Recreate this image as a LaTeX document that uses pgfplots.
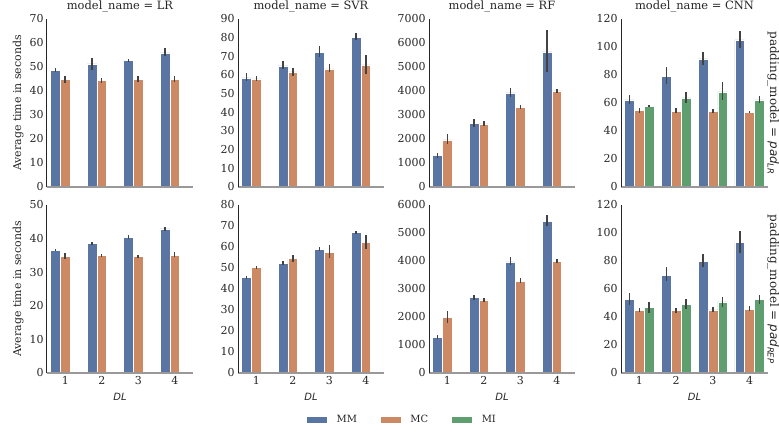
\documentclass[border=0pt]{standalone}
\usepackage{pgfplots}
\pgfplotsset{compat=1.18}
\usepackage{pgfplotstable}
\usepackage{fontspec}
\setmainfont{DejaVu Serif}
\newfontfamily\labelsans[ItalicFont={DejaVu Sans Oblique}]{DejaVu Sans}

\definecolor{cMM}{HTML}{5875A4}
\definecolor{cMC}{HTML}{CC8963}
\definecolor{cMI}{HTML}{5F9E6E}
\definecolor{errc}{HTML}{424242}
\definecolor{txt}{HTML}{262626}
\definecolor{spinex}{HTML}{999999}

% mean time and confidence bounds per delay length (DL)
% padding model pad_LR
\pgfplotstableread{
dl mm   mmlo mmhi mc   mclo mchi
1  48.7 47.9 49.5 44.7 43.2 46.2
2  51.3 48.8 53.7 44.4 43.2 45.6
3  52.7 52.1 53.3 44.9 43.7 46.1
4  55.9 54.4 57.8 44.9 43.7 46.1
}\lrLR
\pgfplotstableread{
dl mm   mmlo mmhi mc   mclo mchi
1  58.5 56.9 61.0 57.9 57.0 59.5
2  64.9 63.3 67.4 61.7 59.5 64.0
3  72.2 69.5 75.4 63.3 61.5 65.8
4  80.2 78.6 82.5 65.4 60.6 70.8
}\svrLR
\pgfplotstableread{
dl mm   mmlo mmhi mc   mclo mchi
1  1303 1215 1400 1968 1788 2204
2  2648 2509 2828 2634 2523 2758
3  3923 3770 4117 3327 3258 3396
4  5628 4796 6543 4006 3937 4075
}\rfLR
\pgfplotstableread{
dl mm    mmlo mmhi  mc   mclo mchi mi   milo mihi
1  62.3  59.6 65.6  54.9 53.2 56.6 57.7 56.8 58.6
2  79.1  73.4 86.0  54.2 52.5 56.3 63.7 60.1 67.7
3  91.5  87.4 96.5  54.2 52.8 55.6 68.0 62.0 75.1
4  105.0 99.3 111.5 53.5 52.6 54.4 62.3 59.9 64.9
}\cnnLR
% padding model pad_REP
\pgfplotstableread{
dl mm   mmlo mmhi mc   mclo mchi
1  36.6 36.2 37.0 34.8 34.0 35.8
2  38.5 38.0 39.1 34.9 34.4 35.5
3  40.4 39.9 41.0 34.7 34.3 35.2
4  42.9 42.4 43.6 35.1 34.6 35.9
}\lrREP
\pgfplotstableread{
dl mm   mmlo mmhi mc   mclo mchi
1  45.5 44.8 46.1 50.2 49.3 51.1
2  52.3 51.5 53.2 54.5 53.0 56.4
3  58.8 57.9 59.8 57.6 54.7 60.9
4  66.9 66.2 67.7 62.2 59.0 65.7
}\svrREP
\pgfplotstableread{
dl mm   mmlo mmhi mc   mclo mchi
1  1276 1205 1360 1980 1789 2219
2  2696 2601 2792 2612 2541 2684
3  3972 3841 4151 3280 3209 3376
4  5428 5249 5630 3996 3925 4080
}\rfREP
\pgfplotstableread{
dl mm   mmlo mmhi  mc   mclo mchi mi   milo mihi
1  52.5 48.9 56.8  44.9 43.4 46.3 46.8 43.2 50.6
2  69.9 65.9 75.4  44.6 43.0 46.3 49.2 45.8 52.5
3  79.9 75.7 85.2  45.1 43.4 47.1 50.8 47.3 54.4
4  93.3 85.4 101.7 45.6 44.2 47.5 52.5 49.4 55.8
}\cnnREP

\pgfplotsset{
  barleg/.style={legend image code/.code={\fill[##1] (0bp,-3.5bp) rectangle (21bp,3.5bp);}},
}

% one hue of bars
\newcommand\bars[4]{%
  \addplot[ybar, bar width=0.2667, bar shift=#4, fill=#3, draw=white,
    line width=0.5bp, barleg]
  table[x=dl, y=#2] {#1};
}
% its confidence interval, drawn over the bar centre
\newcommand\ci[3]{%
  \addplot[forget plot, draw=none, mark=none,
    error bars/.cd, y dir=both, y explicit, error mark=none,
    error bar style={line width=1.5bp, draw=errc, solid}]
  table[x expr=\thisrow{dl}+#3, y=#2,
    y error plus expr=\thisrow{#2hi}-\thisrow{#2},
    y error minus expr=\thisrow{#2}-\thisrow{#2lo}] {#1};
}

\pgfplotsset{
  panel/.style={
    scale only axis, width=146bp, height=168bp, anchor=south west,
    xmin=0.5, xmax=4.5, ymin=0, xtick={1,2,3,4}, clip=false, axis on top,
    axis x line*=bottom, axis y line*=left,
    x axis line style={-, draw=spinex, line width=1.2bp},
    y axis line style={-, draw=txt, line width=1bp},
    major tick length=0pt, tick style={draw=none},
    ticklabel style={font=\fontsize{11}{13}\selectfont, text=txt},
    /pgf/number format/assume math mode=true,
    /pgf/number format/1000 sep={},
    scaled y ticks=false,
    title style={font=\fontsize{11.5}{13}\selectfont, text=txt, inner sep=0pt,
      at={(axis description cs:0.5,1)}, anchor=base, yshift=4bp},
    ylabel style={font=\fontsize{11}{13}\selectfont, text=txt,
      at={(axis description cs:-0.198,0.5)}, anchor=center},
    xlabel style={font=\labelsans\itshape\fontsize{10}{12}\selectfont, text=txt,
      at={(axis description cs:0.5,-0.143)}, anchor=center},
  },
  toprow/.style={panel, xticklabels={}},
  botrow/.style={panel, xticklabels={1,2,3,4}, xlabel={DL}},
}

\newcommand\sidelabel[1]{%
  \node[rotate=-90, anchor=center, text=txt, font=\fontsize{12}{14}\selectfont]
    at (axis description cs:1.035,0.5)
    {padding\_model = {\labelsans\itshape\fontsize{12}{14}\selectfont pad\raisebox{-0.35ex}{\fontsize{8.5}{10}\selectfont #1}}};
}

\begin{document}
\begin{tikzpicture}
\path[use as bounding box] (0,0) rectangle (779bp,434bp);

% ---- padding model pad_LR ----
\begin{axis}[toprow, at={(47bp,247bp)}, ymax=70, ytick={0,10,...,70},
  title={model\_name = LR}, ylabel={Average time in seconds}]
  \bars{\lrLR}{mm}{cMM}{-0.2667}
  \bars{\lrLR}{mc}{cMC}{0}
  \ci{\lrLR}{mm}{-0.2667}
  \ci{\lrLR}{mc}{0}
\end{axis}
\begin{axis}[toprow, at={(238bp,247bp)}, ymax=90, ytick={0,10,...,90},
  title={model\_name = SVR}]
  \bars{\svrLR}{mm}{cMM}{-0.2667}
  \bars{\svrLR}{mc}{cMC}{0}
  \ci{\svrLR}{mm}{-0.2667}
  \ci{\svrLR}{mc}{0}
\end{axis}
\begin{axis}[toprow, at={(429bp,247bp)}, ymax=7000, ytick={0,1000,...,7000},
  title={model\_name = RF}]
  \bars{\rfLR}{mm}{cMM}{-0.2667}
  \bars{\rfLR}{mc}{cMC}{0}
  \ci{\rfLR}{mm}{-0.2667}
  \ci{\rfLR}{mc}{0}
\end{axis}
\begin{axis}[toprow, at={(621bp,247bp)}, width=147bp, ymax=120, ytick={0,20,...,120},
  title={model\_name = CNN}]
  \bars{\cnnLR}{mm}{cMM}{-0.2667}
  \bars{\cnnLR}{mc}{cMC}{0}
  \bars{\cnnLR}{mi}{cMI}{0.2667}
  \ci{\cnnLR}{mm}{-0.2667}
  \ci{\cnnLR}{mc}{0}
  \ci{\cnnLR}{mi}{0.2667}
  \sidelabel{LR}
\end{axis}

% ---- padding model pad_REP ----
\begin{axis}[botrow, at={(47bp,61bp)}, ymax=50, ytick={0,10,...,50},
  ylabel={Average time in seconds}]
  \bars{\lrREP}{mm}{cMM}{-0.2667}
  \bars{\lrREP}{mc}{cMC}{0}
  \ci{\lrREP}{mm}{-0.2667}
  \ci{\lrREP}{mc}{0}
\end{axis}
\begin{axis}[botrow, at={(238bp,61bp)}, ymax=80, ytick={0,10,...,80}]
  \bars{\svrREP}{mm}{cMM}{-0.2667}
  \bars{\svrREP}{mc}{cMC}{0}
  \ci{\svrREP}{mm}{-0.2667}
  \ci{\svrREP}{mc}{0}
\end{axis}
\begin{axis}[botrow, at={(429bp,61bp)}, ymax=6000, ytick={0,1000,...,6000}]
  \bars{\rfREP}{mm}{cMM}{-0.2667}
  \bars{\rfREP}{mc}{cMC}{0}
  \ci{\rfREP}{mm}{-0.2667}
  \ci{\rfREP}{mc}{0}
\end{axis}
\begin{axis}[botrow, at={(621bp,61bp)}, width=147bp, ymax=120, ytick={0,20,...,120},
  legend style={draw=none, fill=none, at={(axis description cs:-1.49,-0.28)},
    anchor=center, legend columns=3, text=txt,
    font=\fontsize{10}{12}\selectfont,
    /tikz/every odd column/.append style={column sep=7bp},
    /tikz/every even column/.append style={column sep=21bp}}]
  \bars{\cnnREP}{mm}{cMM}{-0.2667}
  \addlegendentry{MM}
  \bars{\cnnREP}{mc}{cMC}{0}
  \addlegendentry{MC}
  \bars{\cnnREP}{mi}{cMI}{0.2667}
  \addlegendentry{MI}
  \ci{\cnnREP}{mm}{-0.2667}
  \ci{\cnnREP}{mc}{0}
  \ci{\cnnREP}{mi}{0.2667}
  \sidelabel{REP}
\end{axis}
\end{tikzpicture}
\end{document}
